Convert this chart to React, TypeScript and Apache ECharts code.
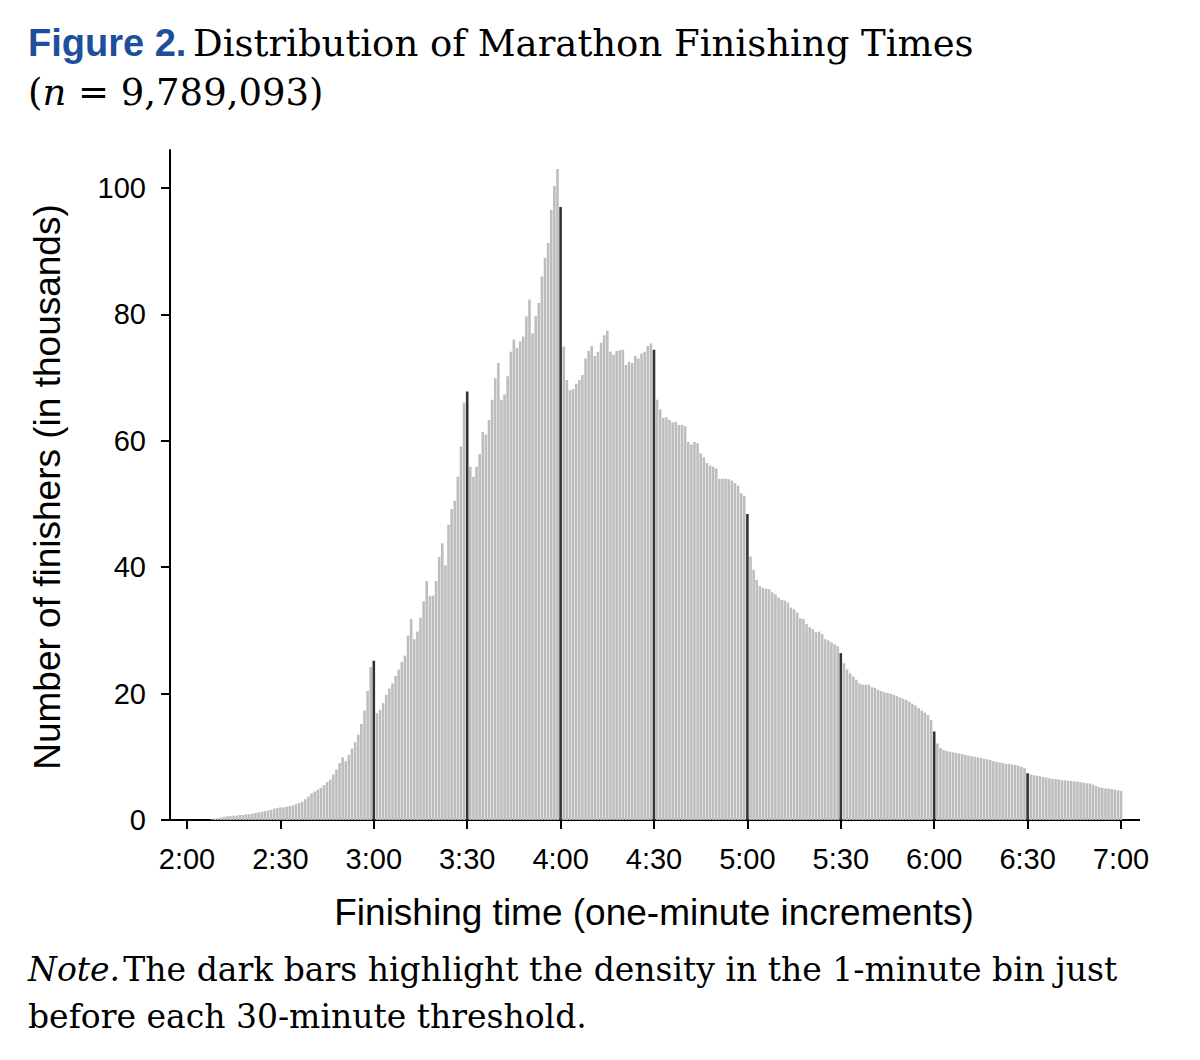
import React, { useEffect, useRef } from "react";
import * as echarts from "echarts";

// finishers per one-minute bin (thousands), bins 2:00 .. 6:59
const seg200 = [0, 0, 0, 0, 0, 0, 0, 0.1, 0.2, 0.3, 0.4, 0.5, 0.6, 0.6, 0.7, 0.7, 0.8, 0.8, 0.9, 0.9, 1.0, 1.1, 1.2, 1.3, 1.4, 1.5, 1.6, 1.8, 1.9, 2.0];
const seg230 = [2.0, 2.1, 2.2, 2.3, 2.5, 2.7, 2.9, 3.3, 3.7, 4.2, 4.5, 4.8, 5.1, 5.5, 6.0, 6.4, 7.2, 8.0, 9.0, 9.9, 9.3, 10.3, 11.3, 12.3, 13.5, 15.2, 17.3, 20.4, 24.2, 25.2];
const seg300 = [16.9, 17.4, 18.5, 19.8, 20.8, 21.6, 22.8, 23.8, 25.0, 26.0, 29.2, 31.8, 28.6, 29.8, 32.0, 34.6, 37.8, 35.4, 35.5, 37.8, 41.6, 43.8, 40.3, 46.7, 49.2, 50.5, 54.3, 59.1, 66.0, 67.8];
const seg330 = [55.9, 54.3, 55.9, 57.9, 61.4, 61.0, 63.3, 66.5, 69.9, 72.3, 66.5, 67.3, 70.2, 74.1, 76.0, 74.7, 75.7, 76.5, 79.7, 82.3, 77.0, 79.7, 81.8, 86.0, 88.9, 91.3, 96.5, 100.3, 103.0, 97.0];
const seg400 = [74.9, 69.6, 68.0, 68.2, 69.0, 69.6, 70.4, 73.0, 74.2, 75.0, 73.4, 74.1, 75.5, 76.7, 77.4, 74.1, 73.6, 74.2, 74.3, 74.4, 72.0, 72.5, 72.3, 73.4, 73.0, 73.8, 74.1, 75.0, 75.4, 74.4];
const seg430 = [66.5, 65.0, 63.6, 63.7, 63.3, 62.9, 63.0, 62.5, 62.5, 62.3, 59.8, 59.4, 59.8, 59.6, 58.0, 57.4, 56.5, 56.1, 55.9, 55.6, 54.0, 54.0, 54.0, 53.9, 53.7, 53.3, 52.9, 51.7, 51.3, 48.4];
const seg500 = [41.7, 39.6, 38.0, 37.0, 36.7, 36.6, 36.5, 36.0, 35.7, 35.2, 34.8, 34.7, 34.4, 33.6, 33.3, 32.8, 31.9, 31.8, 31.0, 30.5, 30.2, 29.7, 29.8, 29.4, 28.6, 28.4, 28.1, 27.8, 27.5, 26.4];
const seg530 = [24.8, 23.8, 23.2, 22.7, 22.2, 21.6, 21.4, 21.4, 21.4, 21.0, 20.9, 20.6, 20.4, 20.2, 20.1, 20.0, 19.8, 19.6, 19.4, 19.2, 19.0, 18.7, 18.4, 18.1, 17.7, 17.3, 17.0, 16.6, 15.8, 14.0];
const seg600 = [12.1, 11.4, 11.1, 10.9, 10.8, 10.7, 10.6, 10.5, 10.4, 10.3, 10.2, 10.1, 10.0, 9.9, 9.8, 9.7, 9.6, 9.5, 9.3, 9.2, 9.1, 9.0, 8.9, 8.9, 8.8, 8.7, 8.6, 8.4, 8.2, 7.4];
const seg630 = [7.2, 7.1, 7.0, 6.9, 6.8, 6.7, 6.6, 6.5, 6.5, 6.4, 6.3, 6.3, 6.2, 6.2, 6.1, 6.1, 6.0, 5.9, 5.8, 5.8, 5.6, 5.4, 5.2, 5.1, 5.0, 5.0, 4.9, 4.8, 4.7, 4.6];
const counts = [...seg200, ...seg230, ...seg300, ...seg330, ...seg400, ...seg430, ...seg500, ...seg530, ...seg600, ...seg630];

const startMinute = 120;
const endMinute = 420;
// thresholds whose preceding bin is highlighted
const thresholds = [180, 210, 240, 270, 300, 330, 360, 390];
const yTicks = [0, 20, 40, 60, 80, 100];

const fmt = (m: number) => `${Math.floor(m / 60)}:${String(m % 60).padStart(2, "0")}`;

const App = () => {
  const ref = useRef<HTMLDivElement>(null);

  useEffect(() => {
    document.body.style.margin = "0";
    const chart = echarts.init(ref.current!, null, { renderer: "svg" });
    const minutes: number[] = [];
    for (let m = startMinute; m <= endMinute; m++) minutes.push(m);
    const cats = minutes.map(fmt);
    // bin for minute m is drawn at the end of the bin (m + 1)
    const data: any[] = [null];
    counts.forEach((v, k) => {
      const dark = thresholds.includes(startMinute + k + 1);
      data.push({ value: v, itemStyle: { color: dark ? "#333333" : "#bdbdbd" } });
    });
    const onThreshold = (i: number) => minutes[i] % 30 === 0;
    const sans = "Liberation Sans";
    const serif = "DejaVu Serif";

    chart.setOption({
      animation: false,
      grid: { left: 187, right: 79, top: 150, bottom: 240 },
      xAxis: {
        type: "category",
        data: cats,
        boundaryGap: false,
        axisLine: { show: false },
        axisTick: { show: true, interval: (i: number) => onThreshold(i), length: 9, lineStyle: { color: "#000", width: 2 } },
        axisLabel: { interval: (i: number) => onThreshold(i), color: "#000", fontSize: 29, fontFamily: sans, margin: 24 },
      },
      yAxis: {
        type: "value",
        min: 0,
        max: 106,
        interval: 20,
        offset: 17,
        splitLine: { show: false },
        axisLine: { show: true, lineStyle: { color: "#000", width: 2 } },
        axisTick: { show: true, length: 9, lineStyle: { color: "#000", width: 2 }, customValues: yTicks },
        axisLabel: { color: "#000", fontSize: 29, fontFamily: sans, margin: 24, customValues: yTicks },
      },
      series: [
        {
          type: "bar",
          data,
          barWidth: 2.6,
          silent: true,
        },
      ],
      graphic: [
        { type: "line", shape: { x1: 170, y1: 820, x2: 1140, y2: 820 }, style: { stroke: "#000", lineWidth: 2 } },
        {
          type: "text", left: 28, top: 24,
          style: {
            text: "{b|Figure 2.}  {s|Distribution of Marathon Finishing Times}",
            rich: {
              b: { fontFamily: sans, fontWeight: "bold", fontSize: 38, fill: "#1d4f9c" },
              s: { fontFamily: serif, fontSize: 37, fill: "#000" },
            },
          },
        },
        {
          type: "text", left: 28, top: 74,
          style: {
            text: "{s|(}{i|n}{s| = 9,789,093)}",
            rich: {
              s: { fontFamily: serif, fontSize: 37, fill: "#000" },
              i: { fontFamily: serif, fontStyle: "italic", fontSize: 37, fill: "#000" },
            },
          },
        },
        {
          type: "text", x: 654, y: 912,
          style: { text: "Finishing time (one-minute increments)", fontFamily: sans, fontSize: 37, fill: "#000", align: "center", verticalAlign: "middle" },
        },
        {
          type: "text", x: 47, y: 487, rotation: Math.PI / 2,
          style: { text: "Number of finishers (in thousands)", fontFamily: sans, fontSize: 37, fill: "#000", align: "center", verticalAlign: "middle" },
        },
        {
          type: "text", left: 28, top: 953,
          style: {
            text: "{i|Note.} {s|The dark bars highlight the density in the 1-minute bin just}\n{s|before each 30-minute threshold.}",
            rich: {
              s: { fontFamily: serif, fontSize: 33, fill: "#000", lineHeight: 47 },
              i: { fontFamily: serif, fontStyle: "italic", fontSize: 33, fill: "#000", lineHeight: 47 },
            },
          },
        },
      ],
    });
    return () => chart.dispose();
  }, []);

  return <div ref={ref} style={{ width: 1200, height: 1060 }} />;
};

export default App;
